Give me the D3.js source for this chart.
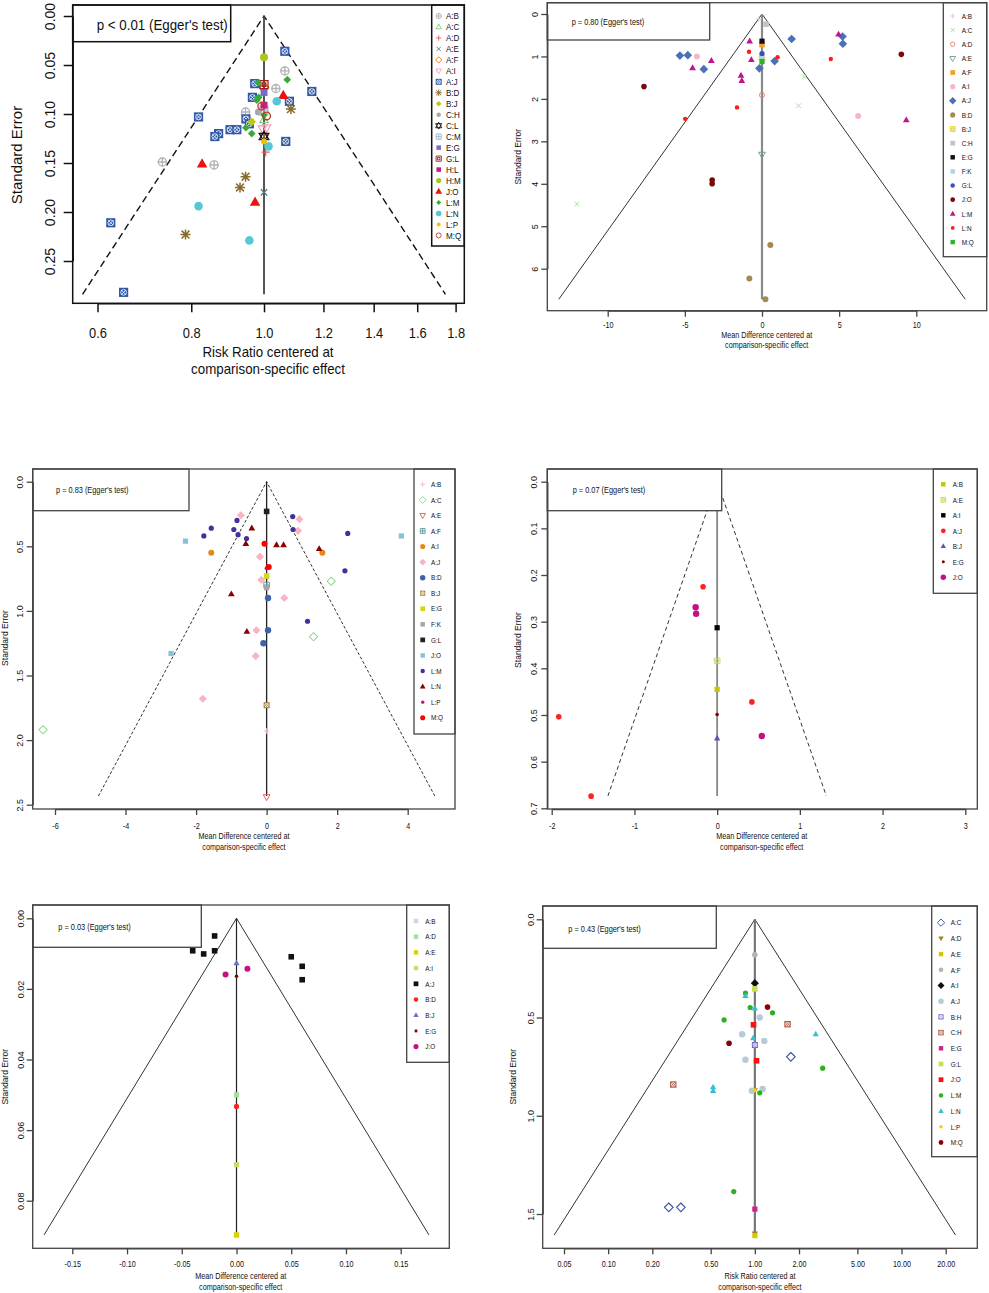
<!DOCTYPE html>
<html><head><meta charset="utf-8">
<script src="https://cdn.jsdelivr.net/npm/d3@7"></script>
<style>body{margin:0;background:#fff}svg{display:block}text{font-family:"Liberation Sans",Arial,sans-serif}</style>
</head><body>
<script>
// ================= DATA =================
const eggerTexts = ["p < 0.01 (Egger's test)","p = 0.80 (Egger's test)","p = 0.83 (Egger's test)","p = 0.07 (Egger's test)","p = 0.03 (Egger's test)","p = 0.43 (Egger's test)"];
const rrTitle = ["Risk Ratio centered at","comparison-specific effect"];
const mdTitle = ["Mean Difference centered at","comparison-specific effect"];
const yTitle = "Standard Error";
const funnelSeMax = [0.284, 6.72, 2.433, 0.6736, 0.0897, 1.607];

// Panel 1 (risk ratio)
const p1Legend = ["A:B","A:C","A:D","A:E","A:F","A:I","A:J","B:D","B:J","C:H","C:L","C:M","E:G","G:L","H:L","H:M","J:O","L:M","L:N","L:P","M:Q"];
const p1XTicks = [0.6,0.8,1.0,1.2,1.4,1.6,1.8];
const p1XLabels = ["0.6","0.8","1.0","1.2","1.4","1.6","1.8"];
const p1YTicks = [0,0.05,0.10,0.15,0.20,0.25];
const p1YLabels = ["0.00","0.05","0.10","0.15","0.20","0.25"];
const p1Points = [
 ["A:B",1.066,0.056],["A:B",1.037,0.074],["A:B",0.945,0.098],["A:B",0.732,0.149],["A:B",0.858,0.152],
 ["C:H",0.983,0.098],
 ["A:C",1.0,0.106],["A:D",1.0,0.120],["A:D",1.005,0.139],["A:E",1.0,0.180],["A:F",1.0,0.073],
 ["A:I",0.995,0.115],["A:I",1.008,0.114],
 ["A:J",1.066,0.036],["A:J",1.158,0.077],["A:J",1.081,0.087],["A:J",0.972,0.069],["A:J",0.965,0.083],
 ["A:J",0.818,0.103],["A:J",0.946,0.105],["A:J",0.956,0.110],["A:J",0.901,0.116],["A:J",0.920,0.116],
 ["A:J",0.870,0.120],["A:J",0.860,0.123],["A:J",1.069,0.128],["A:J",0.625,0.211],["A:J",0.650,0.282],
 ["B:D",1.086,0.095],["B:D",0.945,0.164],["B:D",0.929,0.175],["B:D",0.786,0.223],
 ["B:J",0.963,0.108],["C:L",1.0,0.123],["C:M",1.0,0.096],["E:G",1.0,0.078],["G:L",1.0,0.070],
 ["H:L",1.0,0.091],["H:M",1.0,0.042],
 ["J:O",1.061,0.081],["J:O",0.827,0.151],["J:O",0.973,0.190],
 ["L:M",1.074,0.065],["L:M",0.983,0.068],["L:M",0.984,0.083],["L:M",0.978,0.086],["L:M",0.946,0.114],["L:M",0.963,0.120],["L:M",1.0,0.101],
 ["L:N",1.040,0.087],["L:N",1.014,0.133],["L:N",0.818,0.194],["L:N",0.956,0.229],
 ["L:P",1.0,0.128],["M:Q",0.993,0.092],["M:Q",1.008,0.102]
];

// Panel 2 (mean difference)
const p2Legend = ["A:B","A:C","A:D","A:E","A:F","A:I","A:J","B:D","B:J","C:H","E:G","F:K","G:L","J:O","L:M","L:N","M:Q"];
const p2XTicks = [-10,-5,0,5,10];
const p2XLabels = ["-10","-5","0","5","10"];
const p2YTicks = [0,1,2,3,4,5,6];
const p2YLabels = ["0","1","2","3","4","5","6"];
const p2Points = [
 ["A:B",-0.2,0.12],["A:C",2.74,1.48],["A:C",2.37,2.16],["A:C",-12.0,4.48],["A:D",0,1.91],["A:E",0,3.31],
 ["A:F",0,0.72],["A:I",-4.22,1.0],["A:I",6.23,2.40],
 ["A:J",-5.32,0.98],["A:J",-4.81,0.97],["A:J",-3.77,1.30],["A:J",-0.17,1.28],["A:J",0.82,1.11],["A:J",1.92,0.59],["A:J",5.22,0.53],["A:J",5.24,0.70],
 ["B:D",0.54,5.44],["B:D",-0.82,6.23],["B:D",0.22,6.72],["B:J",0,1.04],["C:H",0.26,0.24],["E:G",0,0.64],["F:K",0,1.0],["G:L",0,0.93],
 ["J:O",9.03,0.95],["J:O",-7.65,1.71],["J:O",-3.23,3.91],["J:O",-3.23,4.00],
 ["L:M",4.96,0.48],["L:M",-0.80,0.64],["L:M",-3.28,1.10],["L:M",-0.69,1.08],["L:M",-4.50,1.27],["L:M",-1.36,1.45],["L:M",-1.31,1.57],["L:M",9.35,2.50],
 ["L:N",-0.84,0.89],["L:N",1.01,1.02],["L:N",4.46,1.06],["L:N",-1.62,2.20],["L:N",-4.98,2.47],
 ["M:Q",0,1.12]
];

// Panel 3 (mean difference)
const p3Legend = ["A:B","A:C","A:E","A:F","A:I","A:J","B:D","B:J","E:G","F:K","G:L","J:O","L:M","L:N","L:P","M:Q"];
const p3XTicks = [-6,-4,-2,0,2,4];
const p3XLabels = ["-6","-4","-2","0","2","4"];
const p3YTicks = [0,0.5,1.0,1.5,2.0,2.5];
const p3YLabels = ["0.0","0.5","1.0","1.5","2.0","2.5"];
const p3Points = [
 ["A:B",0,1.93],["A:C",1.83,0.77],["A:C",1.33,1.20],["A:C",-6.34,1.92],["A:E",0,2.44],["A:F",0,0.80],
 ["A:I",-1.57,0.55],["A:I",1.58,0.55],
 ["A:J",-0.73,0.26],["A:J",0.93,0.29],["A:J",0.89,0.38],["A:J",-0.19,0.58],["A:J",-0.15,0.76],["A:J",0.50,0.90],["A:J",-0.29,1.15],["A:J",-0.31,1.35],["A:J",-1.81,1.68],
 ["B:D",0.04,0.90],["B:D",0.04,1.15],["B:D",-0.09,1.25],["B:J",0,1.73],["E:G",0,0.73],["F:K",0,0.82],["G:L",0,0.23],
 ["J:O",-2.30,0.46],["J:O",3.82,0.42],["J:O",-2.71,1.33],
 ["L:M",0.74,0.27],["L:M",-0.84,0.30],["L:M",-1.57,0.36],["L:M",-0.93,0.37],["L:M",-0.81,0.41],["L:M",-1.78,0.42],["L:M",-0.57,0.44],["L:M",0.75,0.37],["L:M",2.30,0.40],["L:M",2.22,0.69],["L:M",1.16,1.08],
 ["L:N",-0.42,0.36],["L:N",-0.59,0.48],["L:N",0.28,0.49],["L:N",0.48,0.49],["L:N",1.49,0.52],["L:N",-1.0,0.87],["L:N",-0.56,1.16],
 ["L:P",0,0.67],["M:Q",-0.06,0.48],["M:Q",0.06,0.66]
];

// Panel 4 (mean difference)
const p4Legend = ["A:B","A:E","A:I","A:J","B:J","E:G","J:O"];
const p4XTicks = [-2,-1,0,1,2,3];
const p4XLabels = ["-2","-1","0","1","2","3"];
const p4YTicks = [0,0.1,0.2,0.3,0.4,0.5,0.6,0.7];
const p4YLabels = ["0.0","0.1","0.2","0.3","0.4","0.5","0.6","0.7"];
const p4Points = [
 ["A:B",0,0.445],["A:E",0,0.384],["A:I",0,0.313],
 ["A:J",-0.17,0.225],["A:J",0.42,0.472],["A:J",-1.915,0.504],["A:J",-1.524,0.674],
 ["B:J",0,0.55],["E:G",0,0.499],
 ["J:O",-0.26,0.269],["J:O",-0.254,0.283],["J:O",0.54,0.545]
];

// Panel 5 (mean difference)
const p5Legend = ["A:B","A:D","A:E","A:I","A:J","B:D","B:J","E:G","J:O"];
const p5XTicks = [-0.15,-0.10,-0.05,0,0.05,0.10,0.15];
const p5XLabels = ["-0.15","-0.10","-0.05","0.00","0.05","0.10","0.15"];
const p5YTicks = [0,0.02,0.04,0.06,0.08];
const p5YLabels = ["0.00","0.02","0.04","0.06","0.08"];
const p5Points = [
 ["A:B",0,0.0897],["A:D",0,0.050],["A:E",0,0.0897],["A:I",0,0.0698],
 ["A:J",-0.02,0.0050],["A:J",-0.04,0.0092],["A:J",-0.03,0.0101],["A:J",-0.02,0.0092],["A:J",0.05,0.0109],["A:J",0.06,0.0136],["A:J",0.06,0.0174],
 ["B:D",0,0.0533],["B:J",0,0.0127],["E:G",0,0.0164],
 ["J:O",0.01,0.0143],["J:O",-0.01,0.0159]
];

// Panel 6 (risk ratio, log axis)
const p6Legend = ["A:C","A:D","A:E","A:F","A:I","A:J","B:H","C:H","E:G","G:L","J:O","L:M","L:N","L:P","M:Q"];
const p6XTicks = [0.05,0.10,0.20,0.50,1.00,2.00,5.00,10.00,20.00];
const p6XLabels = ["0.05","0.10","0.20","0.50","1.00","2.00","5.00","10.00","20.00"];
const p6YTicks = [0,0.5,1.0,1.5];
const p6YLabels = ["0.0","0.5","1.0","1.5"];
const p6Points = [
 ["A:C",1.76,0.70],["A:C",0.259,1.466],["A:C",0.313,1.466],
 ["A:D",1.0,0.87],["A:D",1.0,1.60],["A:E",1.0,1.61],["A:F",1.0,0.181],["A:I",1.0,0.325],
 ["A:J",1.08,0.50],["A:J",0.819,0.585],["A:J",1.16,0.619],["A:J",0.863,0.715],["A:J",0.954,0.873],["A:J",1.13,0.864],
 ["B:H",1.0,0.64],["C:H",1.67,0.534],["C:H",0.278,0.841],["E:G",1.0,1.475],["G:L",1.0,0.354],
 ["J:O",0.979,0.537],["J:O",1.027,0.72],
 ["L:M",0.863,0.375],["L:M",0.929,0.449],["L:M",1.32,0.476],["L:M",0.617,0.512],["L:M",2.90,0.758],["L:M",1.08,0.883],["L:M",0.718,1.386],
 ["L:N",0.863,0.39],["L:N",1.0,0.453],["L:N",0.974,0.605],["L:N",2.60,0.585],["L:N",0.519,0.854],["L:N",0.519,0.873],
 ["L:P",1.0,0.87],["M:Q",1.22,0.447],["M:Q",0.667,0.631]
];

// ================= STYLES (shape, colour, size) =================
const st1 = {"A:B":["circlePlus","#b3b3b3",4.5],"A:C":["triangleOpen","#7ccf7c",4],"A:D":["plus","#e8604c",4],"A:E":["cross","#4d7584",4],
 "A:F":["diamondOpen","#e07800",4],"A:I":["triDownOpen","#f4a0b8",4],"A:J":["squareX","#2f58a8",4.6],"B:D":["asterisk","#8b6a2e",5],
 "B:J":["diamond","#b9cc12",3.6],"C:H":["circle","#a8a8a8",3.5],"C:L":["star6","#111",4.5],"C:M":["squarePlus","#9bb7c6",4],
 "E:G":["square","#7a6bc6",3.5],"G:L":["squareOpen","#9e1b1b",4],"H:L":["square","#c8198c",3.5],"H:M":["circle","#a6c81e",4],
 "J:O":["triangle","#f01010",5],"L:M":["diamond","#3aa935",3.2],"L:N":["circle","#55c7d6",4.3],"L:P":["circle","#f0c000",3],"M:Q":["circleOpen","#c0392b",4.5]};
const st2 = {"A:B":["plus","#cfcfcf",3],"A:C":["cross","#9edc96",3],"A:D":["circleOpen","#ee7a6a",3],"A:E":["triDownOpen","#6a9c9c",3.2],
 "A:F":["square","#f0a030",2.8],"A:I":["circle","#f7b6c6",3],"A:J":["diamond","#4a70b8",3.6],"B:D":["circle","#a48a52",3],
 "B:J":["squareOpen","#e0d000",2.8],"C:H":["square","#c4c4c4",2.8],"E:G":["square","#111",2.6],"F:K":["square","#b4d2e2",2.6],
 "G:L":["circle","#3450c0",2.6],"J:O":["circle","#7a0a0a",2.8],"L:M":["triangle","#c0148c",3.2],"L:N":["circle","#ff1a1a",2.2],"M:Q":["square","#2eb02e",2.6]};
const st3 = {"A:B":["plus","#f5bccb",3],"A:C":["diamondOpen","#8ed68e",3.4],"A:E":["triDownOpen","#e0604e",3.2],"A:F":["squarePlus","#5a9898",2.8],
 "A:I":["circle","#e48a1c",3],"A:J":["diamond","#f8b4c4",3.4],"B:D":["circle","#4062ae",3.2],"B:J":["squareX","#a07a30",3],
 "E:G":["square","#d6d61e",2.8],"F:K":["square","#a6a6a6",2.6],"G:L":["square","#222",2.8],"J:O":["square","#84c2da",2.6],
 "L:M":["circle","#42309c",2.6],"L:N":["triangle","#8b0000",3.2],"L:P":["circle","#c41070",2],"M:Q":["circle","#ff0000",3]};
const st4 = {"A:B":["square","#c8c400",2.6],"A:E":["squareOpen","#bcd85a",2.8],"A:I":["square","#000",2.6],"A:J":["circle","#ff2020",2.8],
 "B:J":["triangle","#5858b4",3],"E:G":["circle","#8b0000",1.8],"J:O":["circle","#c41084",3.2]};
const st5 = {"A:B":["square","#e2cbe8",2.6],"A:D":["square","#a6dea0",2.6],"A:E":["square","#d8d400",2.6],"A:I":["square","#c4de6e",2.6],
 "A:J":["square","#111",2.8],"B:D":["circle","#ff2020",2.6],"B:J":["triangle","#7070c4",3],"E:G":["circle","#8b0000",1.8],"J:O":["circle","#c41084",3]};
const st6 = {"A:C":["diamondOpen","#3452a4",3.6],"A:D":["triDown","#a08030",3],"A:E":["square","#d6c800",2.6],"A:F":["circle","#b4b4b4",2.8],
 "A:I":["diamond","#111",3.4],"A:J":["circle","#b6cad8",3.2],"B:H":["squareX","#7462c4",3],"C:H":["squareX","#b05444",3.2],
 "E:G":["square","#d0208a",2.6],"G:L":["square","#c6e054",2.8],"J:O":["square","#ff1010",2.8],"L:M":["circle","#2eb020",2.6],
 "L:N":["triangle","#34c0d0",3],"L:P":["circle","#f0d000",2],"M:Q":["circle","#8b0000",2.8]};

// ================= LAYOUT =================
const small = {egFont:9,egSx:0.82,legFont:7.5,legSx:0.85,legR:0.85,tick:6,tickFont:9,tickSx:0.8,yTitleFont:8.5,xTitleFont:8.5,xTitleSx:0.85,funnelW:1,funnelC:"#333",boxW:1.3,boxC:"#444"};
const layouts = [
 {log:true,center:1,xDom:[0.6,1.8],xRng:[97.5,455.6],yDom:[0,0.25],yRng:[16,261],box:[72.7,5,464.3,303.3],eg:[72.7,5,230.7,41.7],egText:[96.7,29.5],
  egFont:14.5,egSx:0.92,leg:[431.7,5,464.3,246],legSymX:438.7,legLabX:446,legY0:16,legStep:10.97,legFont:9.5,legSx:0.85,legR:0.65,
  tick:9,tickFont:14,tickSx:0.92,xLabY:333,yLabD:17.7,yTitle:[22.3,155],yTitleFont:15,xTitleX:268,xTitleY:[357,373.5],xTitleFont:14.5,xTitleSx:0.92,
  funnelDash:"7,4",funnelW:1.4,funnelC:"#111",vColor:"#444",vW:1.8,boxW:1.5,boxC:"#111"},
 Object.assign({},small,{log:false,center:0,xDom:[-10,10],xRng:[607.7,916.3],yDom:[0,6],yRng:[14,268.7],box:[547.3,2.7,986.7,310.7],eg:[547.3,2.7,709.7,40],egText:[571.7,25],
  leg:[943.3,2.7,986.7,256.7],legSymX:952.7,legLabX:961.7,legY0:16,legStep:14.13,xLabY:325,yLabD:9.6,yTitle:[521,156.7],xTitleX:766.7,xTitleY:[337.5,347.5],
  funnelDash:null,vColor:"#8a8a8a",vW:2.2}),
 Object.assign({},small,{log:false,center:0,xDom:[-6,4],xRng:[55,407.7],yDom:[0,2.5],yRng:[481.7,804.7],box:[32.7,469,455,809],eg:[32.7,469,189,510.7],egText:[56,493],
  leg:[414,469,455,734],legSymX:422.7,legLabX:431,legY0:484.3,legStep:15.56,xLabY:825.7,yLabD:9.4,yTitle:[7.5,638],xTitleX:244,xTitleY:[839,849.7],
  funnelDash:"3,2",vColor:"#222",vW:1.3}),
 Object.assign({},small,{log:false,center:0,xDom:[-2,3],xRng:[551.7,965.3],yDom:[0,0.7],yRng:[481.7,808.3],box:[547.3,469,977.3,809],eg:[547.3,469,721.7,510.7],egText:[572.7,493],
  leg:[933.3,469,977.3,593.3],legSymX:943.3,legLabX:952.7,legY0:484.3,legStep:15.5,xLabY:825.7,yLabD:10,yTitle:[520.7,640],xTitleX:761.7,xTitleY:[839,849.7],
  funnelDash:"4,3",vColor:"#888",vW:1.8}),
 Object.assign({},small,{log:false,center:0,xDom:[-0.15,0.15],xRng:[72.3,400.7],yDom:[0,0.08],yRng:[918.3,1200.7],box:[32.7,905,449.3,1248.3],eg:[32.7,905,201.3,947.3],egText:[58.3,930],
  leg:[406.7,905,449.3,1062.3],legSymX:416,legLabX:425.3,legY0:921,legStep:15.7,xLabY:1264.3,yLabD:8.7,yTitle:[8.3,1076.7],xTitleX:240.7,xTitleY:[1279,1290],
  funnelDash:null,vColor:"#222",vW:1.2}),
 Object.assign({},small,{log:true,center:1,xDom:[0.05,20],xRng:[564,945.7],yDom:[0,1.5],yRng:[919.3,1214],box:[542.7,906,977.3,1248.3],eg:[542.7,906,716.3,948.3],egText:[568.3,931.5],
  leg:[931.7,906,977.3,1156.7],legSymX:941,legLabX:950.7,legY0:922.7,legStep:15.7,xLabY:1264.3,yLabD:9,yTitle:[516,1076.7],xTitleX:760,xTitleY:[1279,1290],
  funnelDash:null,vColor:"#777",vW:2.2})
];

const panelData = [
 {legend:p1Legend,points:p1Points,xt:p1XTicks,xl:p1XLabels,yt:p1YTicks,yl:p1YLabels,styles:st1,xTitle:rrTitle},
 {legend:p2Legend,points:p2Points,xt:p2XTicks,xl:p2XLabels,yt:p2YTicks,yl:p2YLabels,styles:st2,xTitle:mdTitle},
 {legend:p3Legend,points:p3Points,xt:p3XTicks,xl:p3XLabels,yt:p3YTicks,yl:p3YLabels,styles:st3,xTitle:mdTitle},
 {legend:p4Legend,points:p4Points,xt:p4XTicks,xl:p4XLabels,yt:p4YTicks,yl:p4YLabels,styles:st4,xTitle:mdTitle},
 {legend:p5Legend,points:p5Points,xt:p5XTicks,xl:p5XLabels,yt:p5YTicks,yl:p5YLabels,styles:st5,xTitle:mdTitle},
 {legend:p6Legend,points:p6Points,xt:p6XTicks,xl:p6XLabels,yt:p6YTicks,yl:p6YLabels,styles:st6,xTitle:rrTitle}
];

// ================= DRAWING =================
const svg = d3.select("body").append("svg").attr("width",989).attr("height",1293);

function drawSym(g, shape, x, y, r, color) {
  const sw = Math.max(0.9, r*0.3);
  const P = (d, fill) => g.append("path").attr("d", d).attr("fill", fill ? color : "none")
    .attr("stroke", fill ? "none" : color).attr("stroke-width", sw);
  const plus = `M${x-r},${y}H${x+r}M${x},${y-r}V${y+r}`;
  const a = r*0.78;
  const cross = `M${x-a},${y-a}L${x+a},${y+a}M${x-a},${y+a}L${x+a},${y-a}`;
  const up = `M${x},${y-r*1.15}L${x+r*1.05},${y+r*0.7}L${x-r*1.05},${y+r*0.7}Z`;
  const dn = `M${x},${y+r*1.15}L${x+r*1.05},${y-r*0.7}L${x-r*1.05},${y-r*0.7}Z`;
  const dia = `M${x},${y-r*1.2}L${x+r*1.2},${y}L${x},${y+r*1.2}L${x-r*1.2},${y}Z`;
  const sq = `M${x-r},${y-r}H${x+r}V${y+r}H${x-r}Z`;
  switch (shape) {
    case "circle": g.append("circle").attr("cx",x).attr("cy",y).attr("r",r).attr("fill",color); break;
    case "circleOpen": g.append("circle").attr("cx",x).attr("cy",y).attr("r",r*0.85).attr("fill","none").attr("stroke",color).attr("stroke-width",sw); break;
    case "circlePlus": g.append("circle").attr("cx",x).attr("cy",y).attr("r",r*0.9).attr("fill","none").attr("stroke",color).attr("stroke-width",sw); P(plus); break;
    case "triangle": P(up, true); break;
    case "triangleOpen": P(up); break;
    case "triDown": P(dn, true); break;
    case "triDownOpen": P(dn); break;
    case "plus": P(plus); break;
    case "cross": P(cross); break;
    case "asterisk": P(plus + cross); break;
    case "diamond": P(dia, true); break;
    case "diamondOpen": P(dia); break;
    case "square": P(sq, true); break;
    case "squareOpen": P(sq); P(`M${x-r*0.45},${y-r*0.45}H${x+r*0.45}V${y+r*0.45}H${x-r*0.45}Z`); break;
    case "squarePlus": P(sq); P(plus); break;
    case "squareX": {
      P(sq, true);
      const b = r*0.5;
      g.append("circle").attr("cx",x).attr("cy",y).attr("r",r*0.62).attr("fill","none").attr("stroke","#fff").attr("stroke-width",Math.max(0.7,r*0.18));
      g.append("path").attr("d",`M${x-b},${y-b}L${x+b},${y+b}M${x-b},${y+b}L${x+b},${y-b}`).attr("stroke","#fff").attr("stroke-width",Math.max(0.7,r*0.18));
      break; }
    case "star6": P(up); P(dn); break;
  }
}

function text(g, x, y, str, size, opt) {
  opt = opt || {};
  return g.append("text")
    .attr("transform", `translate(${x},${y})` + (opt.rot ? " rotate(-90)" : "") + ` scale(${opt.sx || 1},1)`)
    .attr("font-size", size).attr("text-anchor", opt.anchor || "start").attr("fill", "#111").text(str);
}

panelData.forEach((D, k) => {
  const L = layouts[k];
  const g = svg.append("g");
  const x = (L.log ? d3.scaleLog() : d3.scaleLinear()).domain(L.xDom).range(L.xRng);
  const y = d3.scaleLinear().domain(L.yDom).range(L.yRng);
  const sm = funnelSeMax[k], c = L.center;
  const lo = L.log ? c*Math.exp(-1.96*sm) : c - 1.96*sm;
  const hi = L.log ? c*Math.exp(1.96*sm) : c + 1.96*sm;

  // funnel
  g.append("path").attr("d", d3.line()([[x(lo), y(sm)], [x(c), y(0)], [x(hi), y(sm)]]))
    .attr("fill","none").attr("stroke",L.funnelC).attr("stroke-width",L.funnelW)
    .attr("stroke-dasharray", L.funnelDash);
  // centre line
  g.append("line").attr("x1",x(c)).attr("x2",x(c)).attr("y1",y(0)).attr("y2",y(sm))
    .attr("stroke",L.vColor).attr("stroke-width",L.vW);

  // points
  const pg = g.append("g");
  D.points.forEach(p => {
    const s = D.styles[p[0]];
    drawSym(pg, s[0], x(p[1]), y(p[2]), s[2], s[1]);
  });

  // Egger box
  g.append("rect").attr("x",L.eg[0]).attr("y",L.eg[1]).attr("width",L.eg[2]-L.eg[0]).attr("height",L.eg[3]-L.eg[1])
    .attr("fill","#fff").attr("stroke",L.boxC).attr("stroke-width",L.boxW);
  text(g, L.egText[0], L.egText[1], eggerTexts[k], L.egFont, {sx:L.egSx});

  // Legend box
  g.append("rect").attr("x",L.leg[0]).attr("y",L.leg[1]).attr("width",L.leg[2]-L.leg[0]).attr("height",L.leg[3]-L.leg[1])
    .attr("fill","#fff").attr("stroke",L.boxC).attr("stroke-width",L.boxW);
  D.legend.forEach((name, i) => {
    const s = D.styles[name];
    const yy = L.legY0 + i*L.legStep;
    drawSym(g, s[0], L.legSymX, yy, s[2]*L.legR, s[1]);
    text(g, L.legLabX, yy + L.legFont*0.36, name, L.legFont, {sx:L.legSx});
  });

  // plot frame
  g.append("rect").attr("x",L.box[0]).attr("y",L.box[1]).attr("width",L.box[2]-L.box[0]).attr("height",L.box[3]-L.box[1])
    .attr("fill","none").attr("stroke",L.boxC).attr("stroke-width",L.boxW);

  // axes
  const ax = g.append("g").attr("transform",`translate(0,${L.box[3]})`)
    .call(d3.axisBottom(x).tickValues(D.xt).tickFormat((d,i) => D.xl[i]).tickSize(L.tick).tickSizeOuter(0));
  ax.attr("color", L.boxC);
  ax.selectAll("path,line").attr("stroke-width", L.boxW);
  ax.selectAll("text").attr("y", L.xLabY - L.box[3]).attr("dy","0.35em").attr("font-size", L.tickFont)
    .attr("fill","#111").attr("transform", `scale(${L.tickSx},1)`);

  const ay = g.append("g").attr("transform",`translate(${L.box[0]},0)`)
    .call(d3.axisLeft(y).tickValues(D.yt).tickFormat((d,i) => D.yl[i]).tickSize(L.tick).tickSizeOuter(0));
  ay.attr("color", L.boxC);
  ay.selectAll("path,line").attr("stroke-width", L.boxW);
  ay.selectAll("text").attr("x",0).attr("y",-L.yLabD).attr("dy",0).attr("text-anchor","middle")
    .attr("font-size", L.tickFont).attr("fill","#111").attr("transform","rotate(-90)");

  // titles
  text(g, L.yTitle[0], L.yTitle[1], yTitle, L.yTitleFont, {rot:true, anchor:"middle"});
  D.xTitle.forEach((t, i) => text(g, L.xTitleX, L.xTitleY[i], t, L.xTitleFont, {anchor:"middle", sx:L.xTitleSx}));
});
</script>
</body></html>
